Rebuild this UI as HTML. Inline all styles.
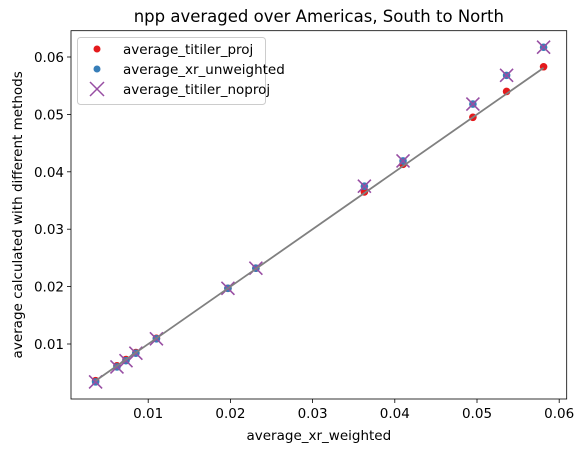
<!DOCTYPE html>
<html><head><meta charset="utf-8"><style>
body{margin:0;background:#fff;}
svg{display:block;font-family:"DejaVu Sans","Liberation Sans",sans-serif;}
</style></head><body>
<svg id="chart" width="585" height="453">
<g id="plot"></g>
</svg>
<script>
const xVals=[0.0036,0.0062,0.0073,0.0085,0.011,0.0197,0.0231,0.0363,0.041,0.0495,0.0536,0.0581];
const projVals=[0.0036,0.0062,0.0073,0.0085,0.011,0.0197,0.0232,0.0365,0.0413,0.0495,0.0540,0.0583];
const unweightedVals=[0.0034,0.0060,0.0071,0.0084,0.0109,0.0197,0.0232,0.0375,0.0419,0.0518,0.0568,0.0617];
const noprojVals=[0.0034,0.0060,0.0071,0.0084,0.0109,0.0197,0.0232,0.0375,0.0419,0.0518,0.0568,0.0617];
const xTicks=[0.01,0.02,0.03,0.04,0.05,0.06];
const yTicks=[0.01,0.02,0.03,0.04,0.05,0.06];
const NS='http://www.w3.org/2000/svg';
const L=71,R=566.7,T=30.7,B=399;
const X=v=>66+v*8220, Y=v=>401.4-v*5740;
const g=document.getElementById('plot');
function mk(t,a,p){const e=document.createElementNS(NS,t);for(const k in a)e.setAttribute(k,a[k]);(p||g).appendChild(e);return e;}
let t=mk('text',{x:(L+R)/2,y:22,'text-anchor':'middle','font-size':16.5});t.textContent='npp averaged over Americas, South to North';


xTicks.forEach(v=>{const x=X(v);
 const l=mk('line',{x1:x,x2:x,y1:B,y2:B+4,stroke:'#000','stroke-width':0.8});
 
 
 const s=mk('text',{x:x,y:B+19,'text-anchor':'middle','font-size':13.5});s.textContent=v.toFixed(2);
 
 });
yTicks.forEach(v=>{const y=Y(v);
 const l=mk('line',{x1:L-4,x2:L,y1:y,y2:y,stroke:'#000','stroke-width':0.8});
 
 
 const s=mk('text',{x:L-7,y:y+5,'text-anchor':'end','font-size':13.5});s.textContent=v.toFixed(2);
 
 });
let xl=mk('text',{x:(L+R)/2,y:440,'text-anchor':'middle','font-size':13.5});xl.textContent='average_xr_weighted';


let yl=mk('text',{x:0,y:0,'text-anchor':'middle','font-size':13.5,transform:`translate(22,${(T+B)/2}) rotate(-90)`});yl.textContent='average calculated with different methods';


xVals.forEach((v,i)=>{const c=mk('circle',{cx:X(v),cy:Y(projVals[i]),r:3.8,fill:'#e41a1c'});
 
 });
xVals.forEach((v,i)=>{const c=mk('circle',{cx:X(v),cy:Y(unweightedVals[i]),r:3.8,fill:'#377eb8'});
 
 });
xVals.forEach((v,i)=>{const x=X(v),y=Y(noprojVals[i]),d=6.5;
 const p=mk('path',{d:`M${x-d},${y-d}L${x+d},${y+d}M${x-d},${y+d}L${x+d},${y-d}`,stroke:'#984ea3','stroke-width':1.6,fill:'none'});
 
 });
const ln=mk('line',{x1:X(xVals[0]),y1:Y(xVals[0]),x2:X(xVals[xVals.length-1]),y2:Y(xVals[xVals.length-1]),stroke:'#808080','stroke-width':1.8});


const fr=mk('rect',{x:L,y:T,width:R-L,height:B-T,fill:'none',stroke:'#000','stroke-width':0.8});


const lg=mk('g',{});


mk('rect',{x:77.5,y:37.5,width:188,height:67,rx:3,fill:'#fff','fill-opacity':0.8,stroke:'#ccc'},lg);
const labels=['average_titiler_proj','average_xr_unweighted','average_titiler_noproj'];
labels.forEach((s,i)=>{const y=49+i*20;
 if(i<2){mk('circle',{cx:97,cy:y,r:3.5,fill:i?'#377eb8':'#e41a1c'},lg);}
 else{mk('path',{d:`M${90},${y-7}L${104},${y+7}M${90},${y+7}L${104},${y-7}`,stroke:'#984ea3','stroke-width':1.5},lg);}
 const tx=mk('text',{x:123,y:y+5,'font-size':13.5},lg);tx.textContent=s;
 
 });
</script>
</body></html>
